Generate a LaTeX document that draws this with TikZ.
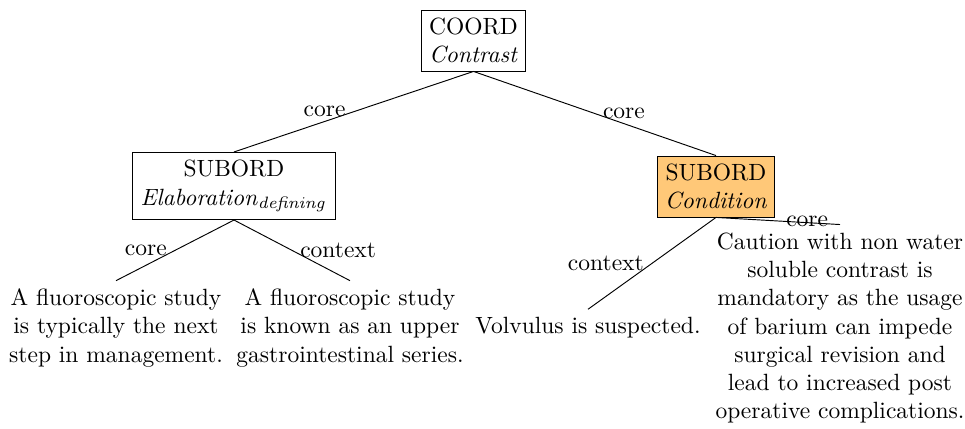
\documentclass[tikz,border=0pt]{standalone}
\usetikzlibrary{positioning}
\definecolor{condfill}{RGB}{255,200,120}
\begin{document}
\begin{tikzpicture}[x=0.4255pt,y=-0.4255pt,
  inner box/.style={draw,align=center,inner sep=0.333em},
  leaf/.style={align=center,inner sep=0.333em},
  lab/.style={inner sep=0.333em}]
\useasboundingbox (0,0) rectangle (965,429);
\node[inner box] (coord) at (473.5,40.5) {COORD\\\textit{Contrast}};
\node[inner box] (sub1) at (234,186) {SUBORD\\\textit{Elaboration}$_{\mathit{defining}}$};
\node[inner box,fill=condfill] (sub2) at (716,186.5) {SUBORD\\\textit{Condition}};
\node[leaf] (l1) at (116,328) {A fluoroscopic study\\is typically the next\\step in management.};
\node[leaf] (l2) at (350,328) {A fluoroscopic study\\is known as an upper\\gastrointestinal series.};
\node[leaf] (l3) at (588,328) {Volvulus is suspected.};
\node[leaf] (l4) at (840,328) {Caution with non water\\soluble contrast is\\mandatory as the usage\\of barium can impede\\surgical revision and\\lead to increased post\\operative complications.};
\draw (coord.south) -- node[lab,anchor=east]{core} (sub1.north);
\draw (coord.south) -- node[lab,anchor=west]{core} (sub2.north);
\draw (sub1.south) -- node[lab,anchor=east]{core} (l1.north);
\draw (sub1.south) -- node[lab,anchor=west]{context} (l2.north);
\draw (sub2.south) -- node[lab,anchor=east]{context} (l3.north);
\draw (sub2.south) -- node[lab,anchor=west]{core} (l4.north);
\end{tikzpicture}
\end{document}
